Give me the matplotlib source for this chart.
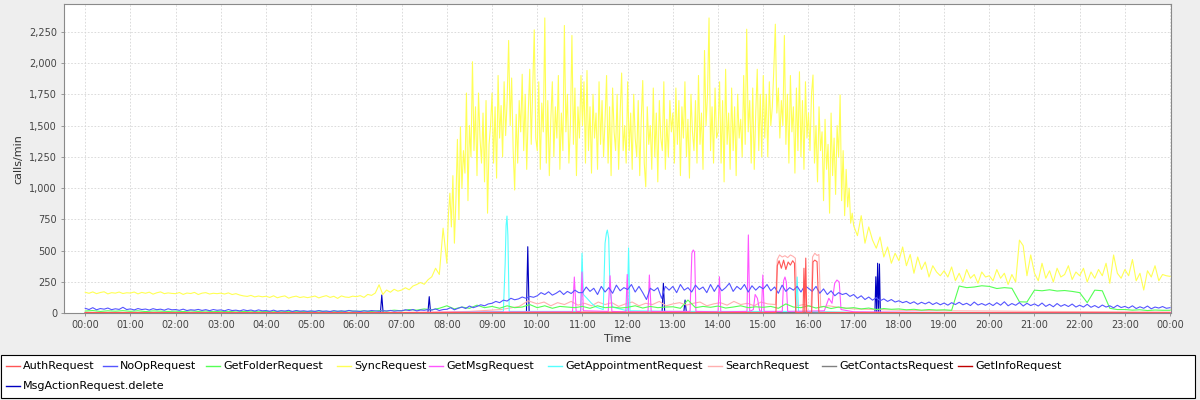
import numpy as np
import matplotlib.pyplot as plt
from matplotlib.lines import Line2D
from matplotlib.patches import Rectangle
from matplotlib.ticker import FuncFormatter

# series names / colours (legend order)
series_names = ['AuthRequest', 'NoOpRequest', 'GetFolderRequest', 'SyncRequest', 'GetMsgRequest',
                'GetAppointmentRequest', 'SearchRequest', 'GetContactsRequest', 'GetInfoRequest',
                'MsgActionRequest.delete']
series_colors = ['#ff5555', '#5555ff', '#55ff55', '#ffff55', '#ff55ff',
                 '#55ffff', '#ffafaf', '#808080', '#c00000', '#0000c0']

hour_labels = ['00:00', '01:00', '02:00', '03:00', '04:00', '05:00', '06:00', '07:00', '08:00',
               '09:00', '10:00', '11:00', '12:00', '13:00', '14:00', '15:00', '16:00', '17:00',
               '18:00', '19:00', '20:00', '21:00', '22:00', '23:00', '00:00']

# SyncRequest 00:00-07:55, one value every 5 minutes (calls/min)
sync_early = [
    168, 160, 171, 157, 166, 172, 155, 165, 161, 170, 158, 164,
    162, 170, 155, 167, 160, 169, 153, 164, 171, 157, 163, 159,
    157, 166, 151, 162, 158, 167, 150, 161, 165, 154, 160, 157,
    161, 154, 163, 150, 157, 146, 139, 135, 143, 131, 138, 132,
    136, 127, 140, 124, 133, 139, 121, 131, 137, 126, 132, 125,
    131, 138, 123, 133, 141, 127, 136, 119, 139, 130, 127, 137,
    133, 141, 127, 151, 143, 162, 228, 150, 186, 168, 192, 177,
    186, 204, 188, 218, 230, 246, 232, 268, 292, 360, 310, 680,
]

# SyncRequest 08:00-16:58, one value every 2 minutes
sync_day = [
    400, 780, 960, 690, 1100, 560, 900, 1390, 750, 1490, 1000, 1300, 1120, 1760, 900,
    1500, 1250, 2010, 1300, 1650, 1100, 1760, 1400, 1200, 1600, 1050, 1700, 800, 1350, 1500,
    1760, 1200, 1650, 1080, 1900, 1400, 1660, 1250, 1850, 1420, 1700, 2180, 1500, 1880, 1300,
    985, 1590, 1200, 1700, 1450, 1910, 1300, 1750, 1150, 1600, 1950, 1350, 1800, 2265, 1400,
    1300, 1850, 1150, 1680, 1450, 2360, 1200, 1700, 1100, 1550, 1850, 1250, 1650, 1400, 1900,
    1150, 1600, 1300, 2300, 1450, 1750, 1200, 1500, 2220, 1350, 1800, 1100, 1650, 1400, 1900,
    1500, 1850, 1200, 1940, 1300, 1650, 1120, 1750, 1400, 1600, 1150, 1850, 1350, 1700, 1250,
    1550, 1900, 1200, 1650, 1100, 1800, 1450, 1300, 1750, 1150, 1600, 1920, 1300, 1500, 1200,
    1850, 1300, 1600, 1150, 1750, 1400, 1250, 1700, 1100, 1550, 1860, 1200, 1010, 1650, 1350,
    1500, 1150, 1800, 1250, 1600, 1050, 1700, 1400, 1300, 1850, 1150, 1550, 1250, 1700, 1450,
    1600, 1200, 1800, 1350, 1700, 1100, 1650, 1400, 1850, 1250, 1550, 1080, 1750, 1450, 1300,
    1700, 1200, 1900, 1350, 1600, 1150, 2100, 1500, 1750, 2360, 1300, 1650, 1200, 1800, 1400,
    1450, 1850, 1200, 1700, 1050, 1950, 1350, 1600, 1150, 1800, 1300, 1650, 1100, 1750, 1400,
    1550, 1250, 1900, 1350, 2270, 1450, 1700, 1200, 1800, 1150, 1600, 1950, 1300, 1750, 1250,
    1900, 1400, 1750, 1250, 1850, 1500, 1650, 1950, 2310, 1600, 1800, 1400, 1700, 1500, 2220,
    1350, 1750, 1200, 1900, 1450, 1650, 1120, 1800, 1300, 1930, 1250, 1700, 1150, 1850, 1400,
    1600, 1300, 1750, 1904, 1200, 1500, 1050, 1650, 1300, 1450, 900, 1550, 1150, 1350, 800,
    1600, 1100, 1400, 950, 1500, 1250, 1745, 900, 1300, 780, 1150, 850, 1000, 720, 800,
]

# SyncRequest 17:00-24:00, one value every 5 minutes
sync_late = [
    700, 620, 780, 560, 690, 585, 520, 610, 450, 530, 400, 480,
    420, 530, 380, 470, 320, 450, 350, 410, 290, 380, 330, 300,
    340, 290, 370, 260, 320, 250, 350, 280, 310, 240, 330, 290,
    300, 260, 350, 280, 320, 230, 310, 250, 585, 540, 300, 466,
    320, 260, 400, 280, 340, 250, 360, 290, 310, 380, 270, 330,
    300, 360, 250, 330, 280, 350, 300, 400, 240, 466, 320, 280,
    350, 300, 430, 260, 320, 186, 340, 290, 380, 260, 310, 300,
    295,
]

# NoOpRequest, one value every 5 minutes
noop_request = [
    40, 30, 45, 28, 38, 33, 42, 29, 36, 31, 48, 30,
    35, 27, 38, 30, 34, 26, 37, 29, 33, 25, 36, 28,
    30, 24, 33, 22, 28, 25, 31, 23, 29, 21, 30, 24,
    27, 20, 30, 22, 25, 19, 28, 21, 26, 18, 27, 20,
    22, 17, 25, 16, 21, 18, 24, 15, 22, 17, 20, 16,
    20, 15, 22, 16, 19, 14, 21, 16, 20, 15, 23, 17,
    18, 14, 20, 17, 22, 19, 16, 21, 18, 23, 17, 20,
    20, 28, 22, 30, 19, 26, 24, 30, 26, 35, 22, 30,
    32, 45, 28, 40, 50, 38, 58, 45, 55, 68, 60, 75,
    80, 95, 85, 105, 98, 120, 108, 115, 130, 120, 135, 128,
    140, 165, 150, 172, 145, 160, 180, 150, 175, 158, 185, 165,
    165, 210, 175, 200, 150, 215, 170, 205, 160, 225, 180, 205,
    190, 230, 170, 215, 165, 110, 200, 180, 205, 120, 215, 185,
    215, 165, 230, 185, 205, 170, 225, 190, 210, 165, 230, 175,
    225, 180, 205, 240, 175, 215, 190, 230, 170, 220, 185, 215,
    195, 230, 180, 210, 160, 225, 175, 205, 185, 215, 170, 220,
    200, 175, 215, 160, 195, 150, 180, 140, 165, 150, 160, 135,
    150, 120, 140, 110, 130, 105, 125, 100, 115, 95, 110, 90,
    100, 85, 95, 78, 92, 72, 88, 75, 90, 70, 85, 68,
    82, 65, 85, 70, 88, 68, 80, 62, 90, 66, 78, 64,
    80, 62, 85, 65, 92, 60, 78, 64, 86, 58, 80, 62,
    75, 58, 82, 55, 72, 52, 78, 56, 70, 54, 74, 50,
    65, 50, 72, 48, 62, 45, 66, 50, 60, 44, 64, 46,
    55, 42, 60, 38, 52, 40, 58, 36, 50, 42, 54, 40,
    45,
]

# GetFolderRequest, one value every 10 minutes
getfolder_request = [
    18, 22, 15, 20, 17, 21,
    16, 20, 14, 19, 17, 15,
    17, 14, 19, 15, 18, 13,
    16, 13, 18, 14, 17, 12,
    15, 12, 17, 13, 16, 14,
    14, 18, 13, 17, 15, 20,
    16, 19, 14, 22, 18, 25,
    20, 30, 25, 35, 28, 40,
    60, 35, 50, 40, 65, 45,
    55, 40, 60, 45, 50, 70,
    45, 60, 40, 55, 50, 45,
    55, 40, 60, 45, 50, 42,
    48, 60, 42, 55, 45, 50,
    52, 40, 106, 45, 55, 48,
    58, 42, 50, 60, 45, 52,
    48, 55, 40, 75, 50, 45,
    60, 42, 55, 38, 50, 40,
    45, 35, 42, 30, 38, 32,
    35, 28, 32, 25, 30, 26,
    28, 24, 218, 205, 210, 220,
    215, 198, 205, 200, 92, 90,
    185, 180, 188, 178, 182, 175,
    165, 85, 185, 180, 40, 30,
    30, 25, 28, 22, 26, 24,
    24,
]

# sparse series as (hour, calls/min) pairs
auth_points = [(0, 6), (3, 5), (6, 6), (9, 7), (12, 8), (15.28, 7), (15.31, 380), (15.35, 420),
               (15.40, 360), (15.45, 425), (15.50, 350), (15.55, 410), (15.60, 385), (15.65, 420),
               (15.69, 400), (15.72, 7), (15.88, 7), (15.90, 360), (15.92, 8), (15.94, 441),
               (15.96, 7), (16.07, 7), (16.10, 410), (16.14, 425), (16.19, 412), (16.23, 7),
               (18, 6), (21, 5), (24, 5)]

getmsg_points = [(0, 5), (7, 6), (9, 10), (10.78, 12), (10.82, 290), (10.86, 15), (10.96, 15),
                 (10.99, 330), (11.02, 20), (11.57, 15), (11.61, 300), (11.65, 15), (11.96, 12),
                 (11.99, 310), (12.02, 12), (12.45, 12), (12.48, 306), (12.52, 15), (13.38, 15),
                 (13.42, 480), (13.45, 506), (13.48, 490), (13.51, 15), (14.0, 12), (14.03, 292),
                 (14.06, 12), (14.64, 15), (14.67, 626), (14.70, 15), (14.78, 30), (14.82, 150),
                 (14.87, 120), (14.92, 20), (14.96, 15), (14.99, 306), (15.02, 15), (15.42, 15),
                 (15.45, 260), (15.48, 290), (15.51, 250), (15.54, 15), (16.35, 20), (16.45, 120),
                 (16.52, 80), (16.58, 240), (16.63, 266), (16.68, 250), (16.72, 30), (17, 12),
                 (19, 6), (24, 4)]

getappt_points = [(0, 4), (8, 6), (9.25, 15), (9.29, 400), (9.31, 700), (9.33, 777), (9.35, 620),
                  (9.38, 15), (10.96, 15), (10.99, 480), (11.02, 150), (11.1, 120), (11.2, 80),
                  (11.3, 50), (11.46, 30), (11.5, 560), (11.53, 640), (11.55, 665), (11.58, 600),
                  (11.61, 180), (11.66, 50), (11.99, 20), (12.02, 522), (12.05, 20), (13, 15),
                  (15.72, 15), (15.75, 290), (15.78, 15), (17, 8), (24, 4)]

search_points = [(0, 8), (2, 7), (4, 6), (6, 6), (7.5, 8), (8.5, 15), (9.2, 30), (9.6, 55),
                 (9.8, 100), (10.0, 75), (10.15, 90), (10.3, 60), (10.45, 85), (10.6, 70),
                 (10.75, 95), (10.9, 65), (11.05, 80), (11.2, 60), (11.35, 90), (11.5, 70),
                 (11.65, 85), (11.8, 55), (11.95, 75), (12.1, 90), (12.25, 60), (12.4, 80),
                 (12.55, 70), (12.7, 95), (12.85, 60), (13.0, 75), (13.15, 85), (13.3, 65),
                 (13.45, 80), (13.6, 90), (13.75, 60), (13.9, 75), (14.05, 85), (14.2, 65),
                 (14.35, 95), (14.5, 70), (14.65, 80), (14.8, 60), (14.95, 90), (15.1, 75),
                 (15.27, 70), (15.31, 430), (15.36, 466), (15.42, 450), (15.48, 460), (15.54, 445),
                 (15.6, 466), (15.66, 455), (15.71, 440), (15.75, 60), (15.9, 70), (16.06, 55),
                 (16.09, 450), (16.14, 480), (16.19, 462), (16.23, 470), (16.27, 50), (16.45, 60),
                 (16.7, 45), (17.0, 35), (17.5, 30), (18, 25), (19, 20), (20, 18), (21, 15),
                 (22, 14), (23, 12), (24, 10)]

getcontacts_points = [(0, 2), (8, 3), (10, 5), (13, 6), (16, 5), (18, 3), (24, 2)]

getinfo_points = [(0, 3), (8, 4), (10, 7), (13, 8), (16, 7), (18, 4), (24, 3)]

delete_points = [(0, 2), (6.53, 2), (6.56, 146), (6.59, 2), (7.58, 2), (7.61, 133), (7.64, 2),
                 (9.76, 2), (9.79, 532), (9.82, 2), (12.76, 2), (12.79, 240), (12.82, 2),
                 (13.24, 2), (13.27, 106), (13.30, 2), (17.47, 2), (17.49, 292), (17.51, 2),
                 (17.53, 400), (17.55, 2), (17.57, 394), (17.59, 2), (24, 2)]


def every(values, minutes, start=0.0):
    return start + np.arange(len(values)) * minutes / 60.0, np.array(values, dtype=float)


def pairs(points):
    arr = np.array(points, dtype=float)
    return arr[:, 0], arr[:, 1]


# SyncRequest pieces joined into one line
parts = [every(sync_early, 5, 0), every(sync_day, 2, 8), every(sync_late, 5, 17)]
sync_t = np.concatenate([p[0] for p in parts])
sync_v = np.concatenate([p[1] for p in parts])

series_data = [
    pairs(auth_points),
    every(noop_request, 5),
    every(getfolder_request, 10),
    (sync_t, sync_v),
    pairs(getmsg_points),
    pairs(getappt_points),
    pairs(search_points),
    pairs(getcontacts_points),
    pairs(getinfo_points),
    pairs(delete_points),
]

fig = plt.figure(figsize=(12, 4), dpi=100, facecolor='#eeeeee')
ax = fig.add_axes([64 / 1200, 1 - 313.3 / 400, 1107 / 1200, 309 / 400])
ax.set_facecolor('white')

# first series is painted on top (reverse rendering order)
for i, (t, v) in enumerate(series_data):
    ax.plot(t, v, color=series_colors[i], lw=0.8, zorder=30 - i)

ax.set_xlim(-0.47, 24.02)
ax.set_ylim(0, 2469)
ax.set_xticks(range(25))
ax.set_xticklabels(hour_labels)
ax.set_yticks(range(0, 2500, 250))
ax.yaxis.set_major_formatter(FuncFormatter(lambda v, p: f'{v:,.0f}'))

ax.grid(True, color='#d6d6d6', linestyle=(0, (2, 2)), linewidth=0.6, zorder=0)
ax.set_axisbelow(True)
for s in ax.spines.values():
    s.set_color('#8a8a8a')
    s.set_linewidth(0.8)
ax.tick_params(axis='both', length=2.5, width=0.6, color='#8a8a8a',
               labelsize=7, labelcolor='#444444', pad=2.5)

ax.set_ylabel('calls/min', fontsize=8, color='#333333', va='center')
ax.yaxis.set_label_coords(-0.0416, 0.5)
ax.set_xlabel('Time', fontsize=8, color='#333333', va='center')
ax.xaxis.set_label_coords(0.5, -0.084)

# legend drawn as a flow of items in one framed box, like the original
W, H = 1200.0, 400.0
fig.add_artist(Rectangle((1 / W, 1 - 398 / H), 1194 / W, 43.5 / H, transform=fig.transFigure,
                         facecolor='white', edgecolor='black', linewidth=0.8))
legend_x = [6, 103, 206, 337, 429, 548, 708, 822, 958, 6]
legend_y = [366, 366, 366, 366, 366, 366, 366, 366, 366, 386]
for name, col, lx, ly in zip(series_names, series_colors, legend_x, legend_y):
    fig.add_artist(Line2D([lx / W, (lx + 14) / W], [1 - ly / H, 1 - ly / H],
                          transform=fig.transFigure, color=col, lw=1.0))
    fig.text((lx + 17) / W, 1 - ly / H, name, fontsize=8, color='black', va='center', ha='left')

fig.savefig('out.png', dpi=100, facecolor=fig.get_facecolor())
